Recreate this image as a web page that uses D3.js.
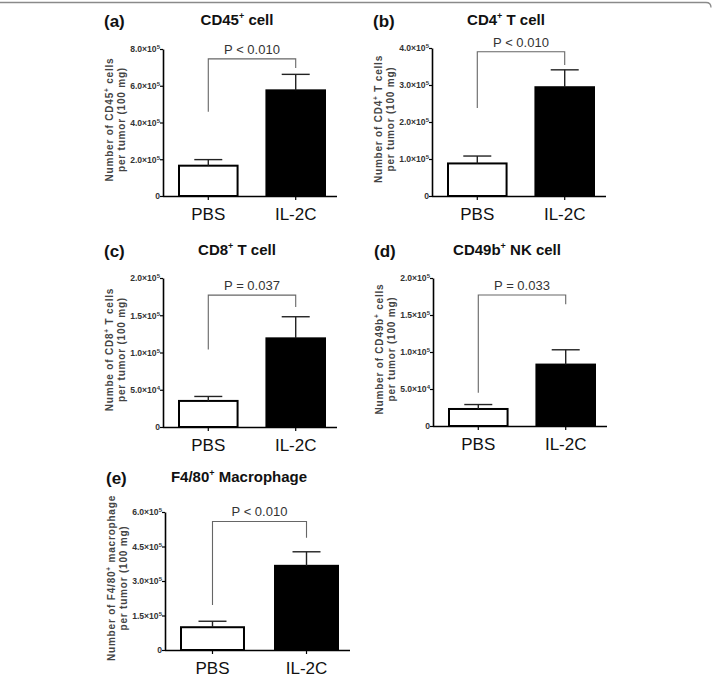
<html>
<head>
<script src="https://d3js.org/d3.v7.min.js"></script>
<style>
  body { margin: 0; background: #fff; }
  text { font-family: Arial, "Liberation Sans", sans-serif; }
</style>
</head>
<body>
<script>
// groups and panel texts
const groups = ["PBS", "IL-2C"];
const letters = ["(a)", "(b)", "(c)", "(d)", "(e)"];
const markers = ["CD45", "CD4", "CD8", "CD49b", "F4/80"];
const titleTails = [" cell", " T cell", " T cell", " NK cell", " Macrophage"];
const yLabelHeads = ["Number of ", "Number of ", "Numbe of ", "Number of ", "Number of "];
const yLabelTails = [" cells", " T cells", " T cells", " cells", " macrophage"];
const yLabelLine2 = "per tumor (100 mg)";

// values (cells per 100 mg tumor)
const means = [[1.65e5, 5.75e5], [0.88e5, 2.94e5], [0.35e5, 1.19e5], [0.23e5, 0.83e5], [0.99e5, 3.66e5]];
const sems = [[0.33e5, 0.87e5], [0.20e5, 0.47e5], [0.06e5, 0.29e5], [0.06e5, 0.20e5], [0.26e5, 0.61e5]];
const yMax = [8e5, 4e5, 2e5, 2e5, 6e5];
const yTicks = [
  [0, 2e5, 4e5, 6e5, 8e5],
  [0, 1e5, 2e5, 3e5, 4e5],
  [0, 5e4, 1e5, 1.5e5, 2e5],
  [0, 5e4, 1e5, 1.5e5, 2e5],
  [0, 1.5e5, 3e5, 4.5e5, 6e5]
];
const pLabels = ["P < 0.010", "P < 0.010", "P = 0.037", "P = 0.033", "P < 0.010"];
const bracketTop = [7.46e5, 3.9e5, 1.77e5, 1.77e5, 5.59e5];
const bracketLeft = [4.59e5, 2.38e5, 1.04e5, 0.45e5, 1.96e5];
const bracketRight = [6.97e5, 3.54e5, 1.61e5, 1.645e5, 4.88e5];

// where each panel sits on the page
const layout = [
  {x0: 163, y0: 196, y1: 49, w: 174, ty: 25},
  {x0: 432, y0: 196, y1: 48, w: 174, ty: 25},
  {x0: 163, y0: 427, y1: 278, w: 174, ty: 255},
  {x0: 433, y0: 426, y1: 278, w: 174, ty: 255},
  {x0: 165, y0: 650, y1: 512, w: 185, ty: 482}
];

let W = 714, H = 677;
let svg = d3.select("body").append("svg")
  .attr("width", W)
  .attr("height", H);

// thin frame line at top
svg.append("path")
  .attr("d", "M0,2.5 H706 Q711,2.5 711,7.5")
  .attr("fill", "none")
  .attr("stroke", "#8a8a8a")
  .attr("stroke-width", 1.3);

function sci(v) {
  if (v == 0) return ["0", ""];
  let e = Math.floor(Math.log10(v));
  return [(v / Math.pow(10, e)).toFixed(1) + "\u00d710", String(e)];
}

layout.forEach((L, i) => {
  let g = svg.append("g");

  let x = d3.scaleBand()
    .domain(groups)
    .range([L.x0 + 16, L.x0 + L.w - 12])
    .paddingInner(0.33)
    .paddingOuter(0);

  let y = d3.scaleLinear()
    .domain([0, yMax[i]])
    .range([L.y0, L.y1]);

  // bars
  g.selectAll(".bar")
    .data(groups)
    .enter()
    .append("rect")
    .attr("x", d => x(d))
    .attr("y", (d, j) => y(means[i][j]))
    .attr("width", x.bandwidth())
    .attr("height", (d, j) => y(0) - y(means[i][j]))
    .attr("fill", (d, j) => j == 0 ? "#fff" : "#000")
    .attr("stroke", "#000")
    .attr("stroke-width", 2);

  // error bars (upper only)
  groups.forEach((d, j) => {
    let cx = x(d) + x.bandwidth() / 2;
    let top = y(means[i][j] + sems[i][j]);
    g.append("line")
      .attr("x1", cx).attr("x2", cx)
      .attr("y1", y(means[i][j])).attr("y2", top)
      .attr("stroke", "#222").attr("stroke-width", 1.4);
    g.append("line")
      .attr("x1", cx - 14).attr("x2", cx + 14)
      .attr("y1", top).attr("y2", top)
      .attr("stroke", "#222").attr("stroke-width", 1.4);
  });

  // axes
  let ya = g.append("g")
    .attr("transform", `translate(${L.x0},0)`)
    .call(d3.axisLeft(y).tickValues(yTicks[i]).tickSize(3).tickSizeOuter(0).tickPadding(0).tickFormat(""));
  ya.select(".domain").attr("stroke-width", 1.6);
  ya.selectAll(".tick line").attr("stroke-width", 1.2);
  ya.selectAll(".tick text").each(function(v) {
    let t = d3.select(this)
      .attr("font-size", 8.6)
      .attr("font-weight", "bold")
      .attr("fill", "#333")
      .attr("text-anchor", "end");
    let s = sci(v);
    t.append("tspan").text(s[0]);
    if (s[1]) {
      t.append("tspan").attr("font-size", 6).attr("dy", -3).text(s[1]);
    }
  });

  let xa = g.append("g")
    .attr("transform", `translate(0,${L.y0})`)
    .call(d3.axisBottom(x).tickSize(4).tickSizeOuter(0).tickPadding(8));
  xa.select(".domain")
    .attr("d", `M${L.x0},0.5H${L.x0 + L.w}`)
    .attr("stroke-width", 1.6);
  xa.selectAll(".tick line").attr("stroke-width", 1.2);
  xa.selectAll(".tick text")
    .attr("font-size", 17)
    .attr("fill", "#111")
    .attr("dy", 0)
    .attr("y", 24);

  // significance bracket
  let xl = x(groups[0]) + x.bandwidth() / 2;
  let xr = x(groups[1]) + x.bandwidth() / 2;
  g.append("path")
    .attr("d", `M${xl},${y(bracketLeft[i])}V${y(bracketTop[i])}H${xr}V${y(bracketRight[i])}`)
    .attr("fill", "none")
    .attr("stroke", "#666")
    .attr("stroke-width", 1.1);
  g.append("text")
    .attr("x", (xl + xr) / 2)
    .attr("y", y(bracketTop[i]) - 5)
    .attr("text-anchor", "middle")
    .attr("font-size", 13)
    .attr("fill", "#333")
    .text(pLabels[i]);

  // panel letter
  g.append("text")
    .attr("x", L.x0 - 59)
    .attr("y", L.ty + 2)
    .attr("font-size", 17)
    .attr("font-weight", "bold")
    .attr("fill", "#111")
    .text(letters[i]);

  // title with superscript +
  let tt = g.append("text")
    .attr("x", L.x0 + 74)
    .attr("y", L.ty)
    .attr("text-anchor", "middle")
    .attr("font-size", 15)
    .attr("font-weight", "bold")
    .attr("fill", "#111");
  tt.append("tspan").text(markers[i]);
  tt.append("tspan").attr("font-size", 9).attr("dy", -6).text("+");
  tt.append("tspan").attr("dy", 6).text(titleTails[i]);

  // y axis title, two lines
  let my = (L.y0 + L.y1) / 2 - 3;
  let l1 = g.append("text")
    .attr("transform", `translate(${L.x0 - 50},${my}) rotate(-90)`)
    .attr("text-anchor", "middle")
    .attr("font-size", 10)
    .attr("font-weight", "bold")
    .attr("fill", "#444")
    .attr("letter-spacing", 0.8);
  l1.append("tspan").text(yLabelHeads[i] + markers[i]);
  l1.append("tspan").attr("font-size", 6.5).attr("dy", -4).text("+");
  l1.append("tspan").attr("dy", 4).text(yLabelTails[i]);

  g.append("text")
    .attr("transform", `translate(${L.x0 - 38},${my}) rotate(-90)`)
    .attr("text-anchor", "middle")
    .attr("font-size", 10)
    .attr("font-weight", "bold")
    .attr("fill", "#444")
    .attr("letter-spacing", 0.8)
    .text(yLabelLine2);
});
</script>
</body>
</html>
